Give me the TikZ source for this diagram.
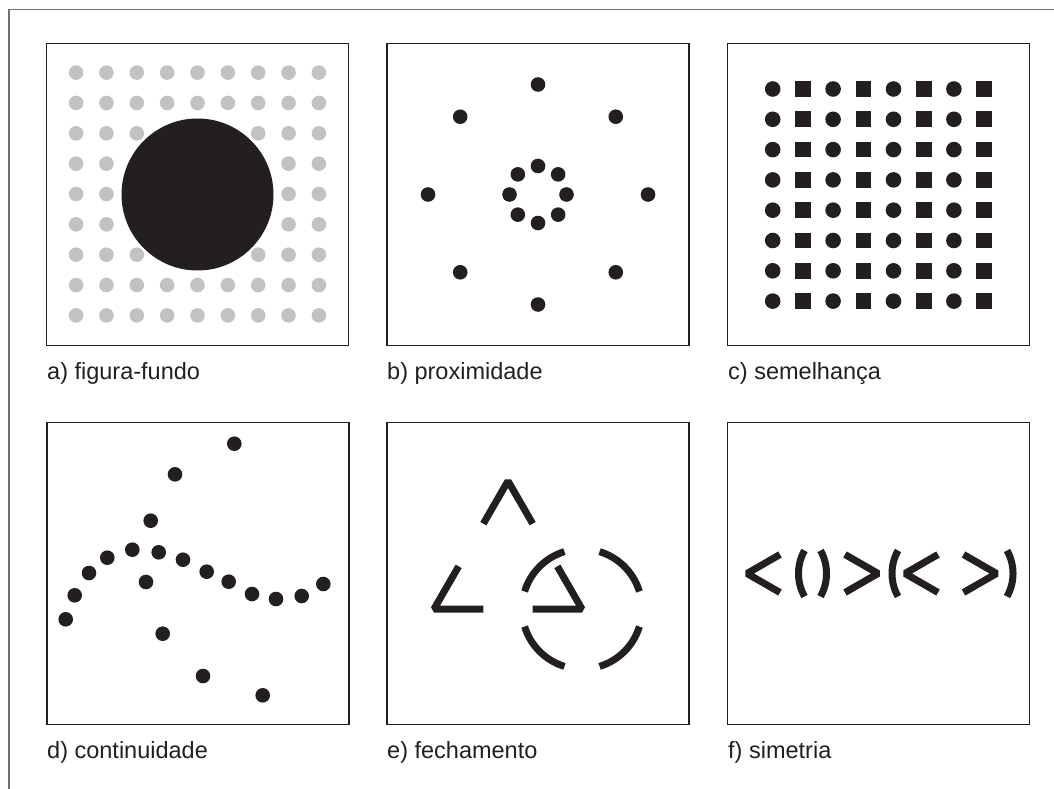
\documentclass[tikz,border=0pt]{standalone}
\usepackage{fontspec}
\setmainfont{Liberation Sans}
\usetikzlibrary{calc}
\definecolor{ink}{HTML}{231F20}
\definecolor{dotgray}{HTML}{C2C2C2}
\definecolor{framegray}{HTML}{707070}
\begin{document}
\begin{tikzpicture}[x=1pt, y=-1pt,
  panel/.style={draw=ink, line width=1.1pt, minimum size=302pt, inner sep=0pt},
  lbl/.style={anchor=base west, inner sep=0pt, font=\fontsize{23.5}{28}\selectfont, text=ink},
  blob/.style={fill=ink},
  gdot/.style={fill=dotgray},
  penline/.style={draw=ink, line width=7pt, line join=bevel}]
  \useasboundingbox (0,0) rectangle (1054,789);
  \draw[framegray, line width=1.5pt] (9,789) -- (9,9.5) -- (1054,9.5);

  \node[panel] (pa) at (197.5,194.5) {};
  \node[panel] (pb) at (538,194.5) {};
  \node[panel] (pc) at (878.5,194.5) {};
  \node[panel] (pd) at (198,573.5) {};
  \node[panel] (pe) at (538,573.5) {};
  \node[panel] (pf) at (878.5,573.5) {};

  \node[lbl] (la) at (47,379) {a) figura-fundo};
  \node[lbl] (lb) at (387,379) {b) proximidade};
  \node[lbl] (lc) at (728,379) {c) semelhança};
  \node[lbl] (ld) at (47,758) {d) continuidade};
  \node[lbl] (le) at (387,758) {e) fechamento};
  \node[lbl] (lf) at (728,758) {f) simetria};

  \foreach \i in {0,...,8}
    \foreach \j in {0,...,8}
      \fill[gdot] (76.1+30.35*\i,72.6+30.35*\j) circle[radius=7.3];
  \fill[blob] (pa.center) circle[radius=76];

  \foreach \a in {0,45,...,315} {
    \fill[blob] ($(pb.center)+(\a:110)$) circle[radius=7.3];
    \fill[blob] ($(pb.center)+(\a:28.5)$) circle[radius=7.3];
  }

  \foreach \j in {0,...,7} {
    \foreach \i in {0,2,4,6}
      \fill[blob] (772.7+30.2*\i,89+30.3*\j) circle[radius=7.8];
    \foreach \i in {1,3,5,7}
      \fill[blob] (772.7+30.2*\i-7.8,89+30.3*\j-7.8) rectangle ++(15.6,15.6);
  }

  \foreach \x/\y in {234.3/443.7, 175/474.3, 150.7/520.7, 132.3/549.7, 158.7/552.3,
      107.3/557.7, 183/559.7, 89/573, 206.7/571.7, 146/582, 228.7/581.7,
      74.7/595.3, 252/594, 276/599, 301.7/596, 323.3/584, 65.7/619.3,
      162.7/633.7, 203/676, 262.7/695.3}
    \fill[blob] (\x,\y) circle[radius=7.3];

  \coordinate (ta) at (508,481);
  \coordinate (tl) at (434,609);
  \coordinate (tr) at (582,609);
  \draw[penline] ($(ta)!1/3!(tl)$) -- (ta) -- ($(ta)!1/3!(tr)$);
  \draw[penline] ($(tl)!1/3!(ta)$) -- (tl) -- ($(tl)!1/3!(tr)$);
  \draw[penline] ($(tr)!1/3!(tl)$) -- (tr) -- ($(tr)!1/3!(ta)$);
  \foreach \a in {17,107,197,287}
    \draw[penline] ($(tr)+(\a:60)$) arc[start angle=\a, end angle=\a+56, radius=60];

  \foreach \t in {747,905}
    \draw[penline] (\t+33,554.5) -- (\t,573.5) -- (\t+33,592.5);
  \foreach \t in {878,996.5}
    \draw[penline] (\t-33,554.5) -- (\t,573.5) -- (\t-33,592.5);
  \foreach \x in {798.5,892}
    \draw[penline] (\x+6,550.5) arc[start angle=209.3, end angle=150.7, radius=47];
  \foreach \x in {826.5,1013}
    \draw[penline] (\x-6,550.5) arc[start angle=-29.3, end angle=29.3, radius=47];
\end{tikzpicture}
\end{document}
